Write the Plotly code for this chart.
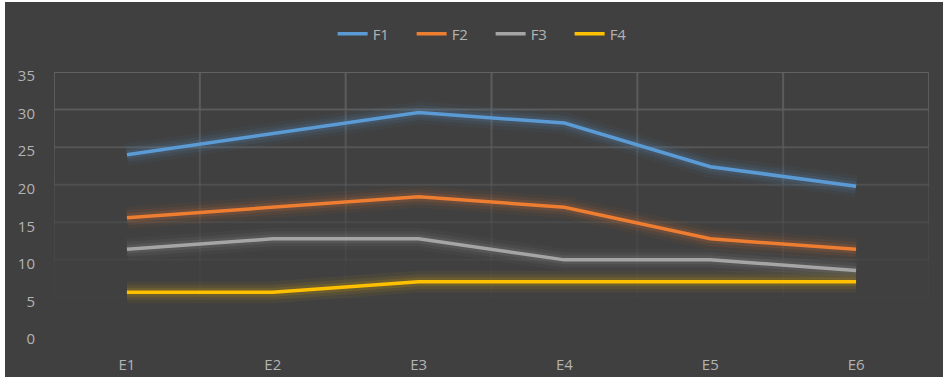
import plotly.graph_objects as go

# Chart data
categories = ["E1", "E2", "E3", "E4", "E5", "E6"]
f1 = [24.0, 26.8, 29.6, 28.2, 22.4, 19.8]
f2 = [15.6, 17.0, 18.4, 17.0, 12.8, 11.4]
f3 = [11.4, 12.8, 12.8, 10.0, 10.0, 8.6]
f4 = [5.7, 5.7, 7.1, 7.1, 7.1, 7.1]
series_names = ["F1", "F2", "F3", "F4"]
series_values = [f1, f2, f3, f4]
y_ticks = [0, 5, 10, 15, 20, 25, 30, 35]

colors = ["#5b9bd5", "#ed7d31", "#a5a5a5", "#ffc000"]
glow_rgb = [(91, 155, 213), (237, 125, 49), (165, 165, 165), (255, 192, 0)]

W, H = 946, 380
ML, MR, MT, MB = 54, 17, 72, 45
BG = "#404040"
TEXT = "#b3b3b3"
FONT = "Open Sans, sans-serif"
FS = 15

fig = go.Figure()

# soft glow under each line
for vals, (r, g, b) in zip(series_values, glow_rgb):
    for w, a in [(22, 0.05), (15, 0.08), (9, 0.13)]:
        fig.add_trace(go.Scatter(
            x=categories, y=vals, mode="lines", showlegend=False, hoverinfo="skip",
            line=dict(color=f"rgba({r},{g},{b},{a})", width=w),
        ))

for name, vals, c in zip(series_names, series_values, colors):
    fig.add_trace(go.Scatter(
        x=categories, y=vals, mode="lines", name=name,
        line=dict(color=c, width=3.5),
    ))

# background panel inset inside a thin white frame
pw, ph = W - ML - MR, H - MT - MB
shapes = [dict(
    type="rect", xref="paper", yref="paper", layer="below",
    x0=(5 - ML) / pw, x1=(943 - ML) / pw,
    y0=1 - (377 - MT) / ph, y1=1 - (2 - MT) / ph,
    fillcolor=BG, line=dict(width=0),
)]


def grid_alpha(v):
    # gridlines fade out toward the bottom of the plot
    return max(0.0, min(1.0, (v / 35) ** 1.4))


grid_rgb = (98, 98, 98)
for v in y_ticks[1:]:
    a = grid_alpha(v)
    shapes.append(dict(
        type="line", xref="x", yref="y", layer="below",
        x0=-0.5, x1=len(categories) - 0.5, y0=v, y1=v,
        line=dict(color=f"rgba({grid_rgb[0]},{grid_rgb[1]},{grid_rgb[2]},{a:.3f})", width=2),
    ))

for i in range(len(categories) + 1):
    xb = i - 0.5
    for lo, hi in zip(y_ticks[:-1], y_ticks[1:]):
        a = grid_alpha((lo + hi) / 2) * 0.9
        shapes.append(dict(
            type="line", xref="x", yref="y", layer="below",
            x0=xb, x1=xb, y0=lo, y1=hi,
            line=dict(color=f"rgba({grid_rgb[0]},{grid_rgb[1]},{grid_rgb[2]},{a:.3f})", width=2),
        ))

fig.update_layout(
    width=W, height=H,
    margin=dict(l=ML, r=MR, t=MT, b=MB, pad=0, autoexpand=False),
    paper_bgcolor="white",
    plot_bgcolor="rgba(0,0,0,0)",
    font=dict(family=FONT, size=FS, color=TEXT),
    shapes=shapes,
    showlegend=True,
    legend=dict(
        orientation="h", x=0.499, xanchor="center", y=1 + (MT - 34) / ph, yanchor="middle",
        font=dict(family=FONT, size=FS, color=TEXT),
        bgcolor="rgba(0,0,0,0)", entrywidth=34, entrywidthmode="pixels", tracegroupgap=0,
    ),
    xaxis=dict(
        type="category", range=[-0.5, len(categories) - 0.5], automargin=False,
        showgrid=False, zeroline=False, showline=False,
        ticks="", ticklabelstandoff=19,
        tickfont=dict(family=FONT, size=FS, color=TEXT),
    ),
    yaxis=dict(
        range=[0, 35], tickvals=y_ticks, automargin=False,
        showgrid=False, zeroline=False, showline=False,
        ticks="", ticklabelstandoff=18, ticklabelshift=4,
        tickfont=dict(family=FONT, size=FS, color=TEXT),
    ),
)

fig.write_html("out.html")
